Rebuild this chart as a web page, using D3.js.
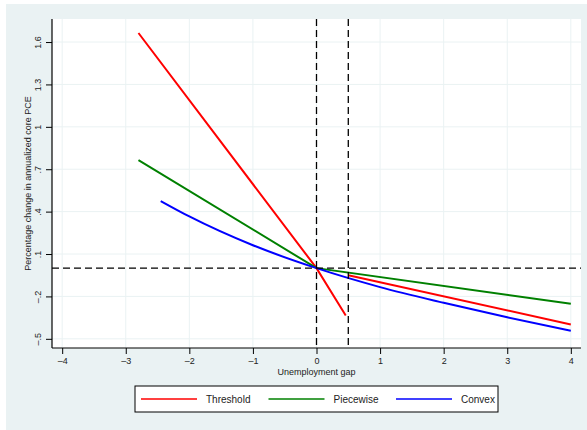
<!DOCTYPE html>
<html>
<head>
<meta charset="utf-8">
<script src="https://cdn.jsdelivr.net/npm/d3@7"></script>
<style>
  body { margin: 0; background: #fff; }
  text { font-family: "Liberation Sans", Arial, sans-serif; fill: #222; }
</style>
</head>
<body>
<svg id="chart" width="587" height="430"></svg>
<script>
"use strict";

// values
let xTicks = [-4, -3, -2, -1, 0, 1, 2, 3, 4];
let yTicks = [-0.5, -0.2, 0.1, 0.4, 0.7, 1, 1.3, 1.6];
let yTickLabels = ["\u2013.5", "\u2013.2", ".1", ".4", ".7", "1", "1.3", "1.6"];
let refX = [0, 0.5];
let refY = [0];

let thresholdLow = [[-2.8, 1.664], [0, 0], [0.46, -0.335]];
let thresholdHigh = [[0.5, -0.05], [4, -0.398]];
let piecewise = [[-2.8, 0.765], [0, 0], [4, -0.252]];
let convex = [[-2.45, 0.475], [-2, 0.366], [-1, 0.162], [0, 0], [1, -0.134],
              [2, -0.245], [3, -0.348], [4, -0.443]];

let series = [
    { name: "Threshold", color: "#ff0000", parts: [thresholdLow, thresholdHigh] },
    { name: "Piecewise", color: "#008000", parts: [piecewise] },
    { name: "Convex", color: "#0000ff", parts: [convex], smooth: true }
];

let svg = d3.select("#chart");

// outer background
svg.append("rect")
    .attr("x", 6).attr("y", 4)
    .attr("width", 581).attr("height", 426)
    .style("fill", "#eaf2f3");

let pLeft = 52, pRight = 581, pTop = 19, pBottom = 348;

let x = d3.scaleLinear().domain([-4.16, 4.16]).range([pLeft, pRight]);
let y = d3.scaleLinear().domain([-0.565, 1.763]).range([pBottom, pTop]);

svg.append("rect")
    .attr("x", pLeft).attr("y", pTop)
    .attr("width", pRight - pLeft).attr("height", pBottom - pTop)
    .style("fill", "#fff");

// grid
svg.append("g").selectAll("line")
    .data(yTicks).enter().append("line")
    .attr("x1", pLeft).attr("x2", pRight)
    .attr("y1", d => y(d)).attr("y2", d => y(d))
    .style("stroke", "#eaf2f3").style("stroke-width", 1);

svg.append("g").selectAll("line")
    .data(xTicks).enter().append("line")
    .attr("x1", d => x(d)).attr("x2", d => x(d))
    .attr("y1", pTop).attr("y2", pBottom)
    .style("stroke", "#eaf2f3").style("stroke-width", 1);

// axes
let xAxis = svg.append("g")
    .attr("transform", "translate(0," + pBottom + ")")
    .call(d3.axisBottom(x).tickValues(xTicks).tickSizeOuter(0).tickSize(6).tickPadding(4)
        .tickFormat(d => d < 0 ? "\u2013" + Math.abs(d) : d));
xAxis.select(".domain").remove();
xAxis.append("line").attr("x1", pLeft).attr("x2", pRight)
    .style("stroke", "#000").style("stroke-width", 1.2);
xAxis.selectAll("text").style("font-size", "9px").style("fill", "#222");

let yAxis = svg.append("g")
    .attr("transform", "translate(" + pLeft + ",0)")
    .call(d3.axisLeft(y).tickValues(yTicks).tickSizeOuter(0).tickSize(6)
        .tickFormat((d, i) => yTickLabels[i]));
yAxis.select(".domain").remove();
yAxis.append("line").attr("y1", pTop).attr("y2", pBottom)
    .style("stroke", "#000").style("stroke-width", 1.2);
yAxis.selectAll("text")
    .attr("x", 0).attr("dy", 0)
    .attr("transform", "translate(-11,0) rotate(-90)")
    .style("text-anchor", "middle")
    .style("font-size", "9px").style("fill", "#222");

// axis titles
svg.append("text")
    .attr("x", x(0))
    .attr("y", 375)
    .style("text-anchor", "middle").style("font-size", "9px")
    .text("Unemployment gap");

svg.append("text")
    .attr("transform", "translate(31," + (pTop + pBottom) / 2 + ") rotate(-90)")
    .style("text-anchor", "middle").style("font-size", "9px")
    .text("Percentage change in annualized core PCE");

// lines
let line = d3.line().x(d => x(d[0])).y(d => y(d[1]));
let smoothLine = d3.line().x(d => x(d[0])).y(d => y(d[1])).curve(d3.curveMonotoneX);
series.forEach(function (s) {
    s.parts.forEach(function (p) {
        svg.append("path")
            .datum(p)
            .attr("d", s.smooth ? smoothLine : line)
            .style("fill", "none")
            .style("stroke", s.color)
            .style("stroke-width", 2);
    });
});

// reference lines
svg.append("g").selectAll("line")
    .data(refX).enter().append("line")
    .attr("x1", d => x(d)).attr("x2", d => x(d))
    .attr("y1", pTop).attr("y2", pBottom)
    .style("stroke", "#000").style("stroke-width", 1.3)
    .style("stroke-dasharray", "7,4");

svg.append("g").selectAll("line")
    .data(refY).enter().append("line")
    .attr("x1", pLeft).attr("x2", pRight)
    .attr("y1", d => y(d)).attr("y2", d => y(d))
    .style("stroke", "#000").style("stroke-width", 1.3)
    .style("stroke-dasharray", "7,4");

// legend
let legend = svg.append("g");
legend.append("rect")
    .attr("x", 135).attr("y", 386)
    .attr("width", 363).attr("height", 26)
    .style("fill", "#fff").style("stroke", "#000").style("stroke-width", 1);

let items = legend.selectAll("g.item")
    .data(series).enter().append("g")
    .attr("class", "item")
    .attr("transform", (d, i) => "translate(" + (141 + i * 127.5) + ",399)");

items.append("line")
    .attr("x1", 0).attr("x2", 56)
    .style("stroke", d => d.color).style("stroke-width", 1.5);

items.append("text")
    .attr("x", 65).attr("y", 3.5)
    .style("font-size", "10px")
    .text(d => d.name);
</script>
</body>
</html>
